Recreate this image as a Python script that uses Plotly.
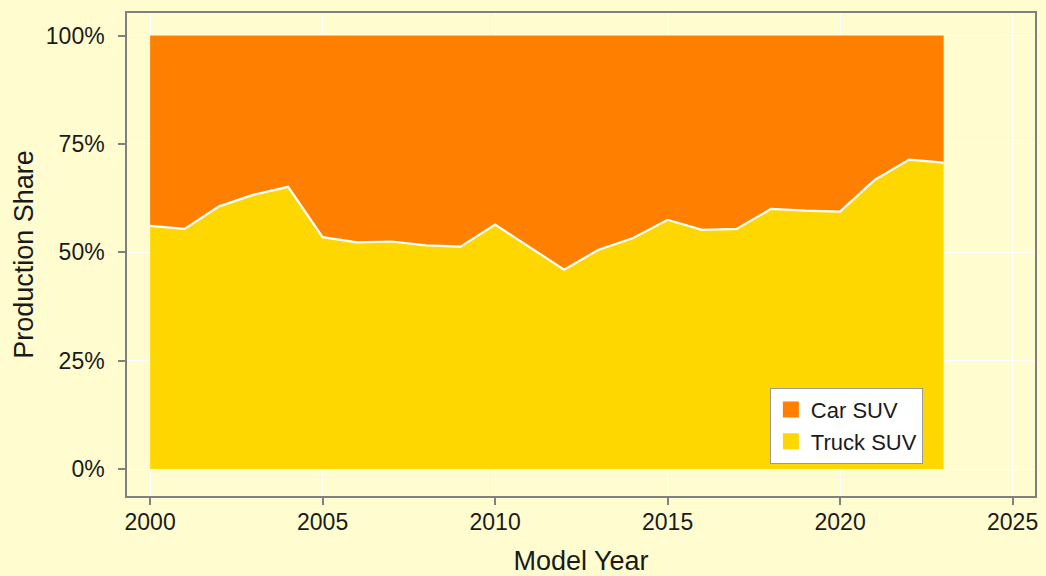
import plotly.graph_objects as go

years = list(range(2000, 2024))
truck_suv = [0.561, 0.554, 0.606, 0.633, 0.651, 0.535, 0.523, 0.525, 0.516, 0.513,
             0.564, 0.513, 0.460, 0.506, 0.533, 0.575, 0.552, 0.554, 0.600, 0.596,
             0.594, 0.667, 0.714, 0.707]
car_suv = [0.439, 0.446, 0.394, 0.367, 0.349, 0.465, 0.477, 0.475, 0.484, 0.487,
           0.436, 0.487, 0.540, 0.494, 0.467, 0.425, 0.448, 0.446, 0.400, 0.404,
           0.406, 0.333, 0.286, 0.293]
series_names = ["Car SUV", "Truck SUV"]

y_ticks = [0, 0.25, 0.5, 0.75, 1.0]
y_labels = ["0%", "25%", "50%", "75%", "100%"]
x_ticks = [2000, 2005, 2010, 2015, 2020, 2025]

ORANGE = "#FF8000"
GOLD = "#FFD700"
BG = "#FFFDD0"

fig = go.Figure()
fig.add_trace(go.Scatter(x=years, y=truck_suv, name="Truck SUV", stackgroup="one",
                         mode="lines", line=dict(width=0, color=GOLD), fillcolor=GOLD,
                         showlegend=False, hoverinfo="skip"))
fig.add_trace(go.Scatter(x=years, y=car_suv, name="Car SUV", stackgroup="one",
                         mode="lines", line=dict(width=0, color=ORANGE), fillcolor=ORANGE,
                         showlegend=False, hoverinfo="skip"))
fig.add_trace(go.Scatter(x=years, y=truck_suv, mode="lines", showlegend=False,
                         line=dict(color="white", width=2.2), hoverinfo="skip"))
# legend swatches
for nm, col in zip(series_names, [ORANGE, GOLD]):
    fig.add_trace(go.Scatter(x=[None], y=[None], mode="markers", name=nm,
                             marker=dict(symbol="square", size=22, color=col)))

fig.update_layout(
    width=1046, height=576,
    paper_bgcolor=BG, plot_bgcolor=BG,
    margin=dict(l=127, r=11, t=13, b=80),
    font=dict(family="Liberation Sans, Arial, sans-serif", color="#1a1a1a", size=23),
    showlegend=True,
    legend=dict(x=0.708, y=0.224, xanchor="left", yanchor="top",
                bgcolor="white", bordercolor="#999999", borderwidth=1,
                font=dict(size=22, color="#1a1a1a"), traceorder="normal",
                itemwidth=30, tracegroupgap=0),
)
fig.update_xaxes(
    range=[1999.33, 2025.65], tickvals=x_ticks, ticktext=[str(t) for t in x_ticks],
    showgrid=True, gridcolor="white", gridwidth=1.2, zeroline=False,
    showline=True, mirror=True, linecolor="#808080", linewidth=1.5,
    ticks="outside", ticklen=7, tickcolor="#808080", tickwidth=1.5,
    tickfont=dict(size=23), automargin=False, ticklabelstandoff=-2,
    title=dict(text="Model Year", font=dict(size=27), standoff=22),
)
fig.update_yaxes(
    range=[-0.062, 1.052], tickvals=y_ticks, ticktext=y_labels,
    showgrid=True, gridcolor="white", gridwidth=1.2, zeroline=False,
    showline=True, mirror=True, linecolor="#808080", linewidth=1.5,
    ticks="outside", ticklen=7, tickcolor="#808080", tickwidth=1.5,
    tickfont=dict(size=23), automargin=False, ticklabelstandoff=9,
    title=dict(text="Production Share", font=dict(size=27), standoff=4),
)

fig.write_html("out.html", config={"displayModeBar": False},
               post_script="document.body.style.margin='0';")
